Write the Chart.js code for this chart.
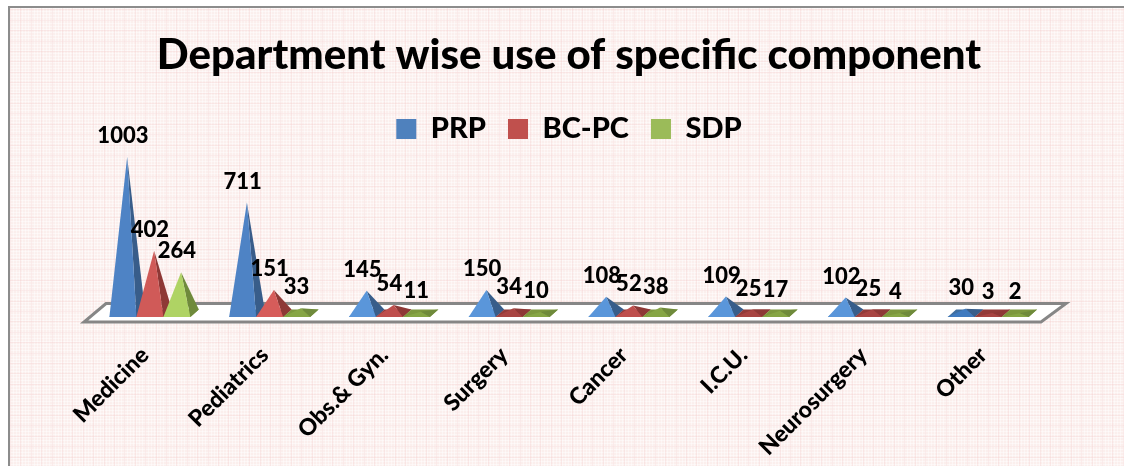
<!DOCTYPE html>
<html>
<head>
<meta charset="utf-8">
<title>Department wise use of specific component</title>
<script src="https://cdn.jsdelivr.net/npm/chart.js@4/dist/chart.umd.min.js"></script>
<style>
  html, body { margin: 0; padding: 0; background: #fff; overflow: hidden; }
  #frame {
    position: absolute; left: 8px; top: 6px; width: 1116px; height: 460px;
    border-left: 2px solid #8c8c8c; border-top: 2px solid #8c8c8c;
    background-color: #fbefed;
    background-image:
      repeating-linear-gradient(90deg, rgba(244,205,205,0.3) 0 1px, transparent 1px 10.4px),
      repeating-linear-gradient(0deg, rgba(244,205,205,0.3) 0 1px, transparent 1px 10.4px),
      repeating-linear-gradient(90deg, rgba(255,255,255,0.45) 0 1px, transparent 1px 3px),
      repeating-linear-gradient(0deg, rgba(255,255,255,0.45) 0 1px, transparent 1px 3px);
  }
  #weightless { position: absolute; left: 0; top: 0; }
</style>
</head>
<body>
<div id="frame"></div>
<canvas id="weightless" width="1124" height="466"></canvas>
<script>
const departments = ['Medicine', 'Pediatrics', 'Obs.& Gyn.', 'Surgery', 'Cancer', 'I.C.U.', 'Neurosurgery', 'Other'];
const prp = [1003, 711, 145, 150, 108, 109, 102, 30];
const bcPc = [402, 151, 54, 34, 52, 25, 25, 3];
const sdp = [264, 33, 11, 10, 38, 17, 4, 2];

// front face by height of the pyramid, then right face, then the base seen from above
const faces = [
  { front: ['#4E83C5', '#5A96DA', '#5A96DA', '#3F7ABF'], side: '#385D8A', base: '#3F6EA0' },
  { front: ['#D05A58', '#D65C5A', '#BE4E4C', '#A84442'], side: '#8E3836', base: '#923B39' },
  { front: ['#AFD364', '#AFD364', '#8FAF4E', '#86A545'], side: '#6F8A3B', base: '#7C973E' }
];

function frontColor(set, value) {
  if (value >= 400) return set.front[0];
  if (value >= 100) return set.front[1];
  if (value >= 40) return set.front[2];
  return set.front[3];
}

function drawFloor(ctx, area) {
  const y = area.bottom;
  ctx.beginPath();
  ctx.moveTo(area.left - 6, y + 8.5);
  ctx.lineTo(area.right - 7, y + 8.5);
  ctx.lineTo(area.right + 18, y - 10);
  ctx.lineTo(area.left + 16, y - 10);
  ctx.closePath();
  ctx.fillStyle = '#ffffff';
  ctx.fill();
  ctx.strokeStyle = '#868686';
  ctx.lineWidth = 3;
  ctx.stroke();
}

function drawPyramid(ctx, bar, set, value) {
  const half = bar.width / 2;
  const left = bar.x - half;
  const right = bar.x + half;
  const front = bar.base + 3.5;
  const back = bar.base - 4;
  const apexX = bar.x + 4.25;

  ctx.fillStyle = set.base;
  ctx.beginPath();
  ctx.moveTo(left, front);
  ctx.lineTo(right, front);
  ctx.lineTo(right + 8.5, back);
  ctx.lineTo(left + 8.5, back);
  ctx.closePath();
  ctx.fill();

  ctx.fillStyle = set.side;
  ctx.beginPath();
  ctx.moveTo(right, front);
  ctx.lineTo(right + 8.5, back);
  ctx.lineTo(apexX, bar.y);
  ctx.closePath();
  ctx.fill();

  ctx.fillStyle = frontColor(set, value);
  ctx.beginPath();
  ctx.moveTo(left, front);
  ctx.lineTo(right, front);
  ctx.lineTo(apexX, bar.y);
  ctx.closePath();
  ctx.fill();
}

const pyramidPlugin = {
  id: 'pyramids',
  beforeDatasetsDraw(chart) {
    const ctx = chart.ctx;
    ctx.save();
    drawFloor(ctx, chart.chartArea);
    // first series at the back, so the later ones overlap it
    chart.data.datasets.forEach((ds, i) => {
      chart.getDatasetMeta(i).data.forEach((bar, j) => {
        drawPyramid(ctx, bar, faces[i], ds.data[j]);
      });
    });
    ctx.fillStyle = '#000';
    ctx.font = '900 22px Lato';
    ctx.textAlign = 'center';
    ctx.textBaseline = 'middle';
    chart.data.datasets.forEach((ds, i) => {
      chart.getDatasetMeta(i).data.forEach((bar, j) => {
        ctx.fillText(ds.data[j], bar.x, bar.y - 21);
      });
    });
    ctx.restore();
    return false;
  }
};

new Chart(document.getElementById('weightless').getContext('2d'), {
  type: 'bar',
  plugins: [pyramidPlugin],
  data: {
    labels: departments,
    datasets: [
      { label: 'PRP', data: prp, backgroundColor: '#4F81BD' },
      { label: 'BC-PC', data: bcPc, backgroundColor: '#C0504D' },
      { label: 'SDP', data: sdp, backgroundColor: '#9BBB59' }
    ]
  },
  options: {
    responsive: false,
    animation: false,
    layout: { padding: { left: 90, right: 76, top: 0, bottom: 0 } },
    datasets: { bar: { categoryPercentage: 0.676, barPercentage: 1 } },
    plugins: {
      tooltip: { enabled: false },
      title: {
        display: true,
        text: 'Department wise use of specific component',
        color: '#000',
        font: { family: 'Lato', size: 42, weight: '900' },
        padding: { top: 30, bottom: 12 }
      },
      legend: {
        labels: {
          color: '#000',
          font: { family: 'Lato', size: 29, weight: '900' },
          boxWidth: 20,
          boxHeight: 20,
          padding: 22
        }
      }
    },
    scales: {
      x: {
        grid: { display: false },
        border: { display: false },
        afterFit(scale) { scale.height = 152.5; },
        ticks: {
          color: '#000',
          font: { family: 'Lato', size: 23, weight: '900' },
          minRotation: 45,
          maxRotation: 45,
          padding: 20,
          labelOffset: -5,
          autoSkip: false
        }
      },
      y: { display: false, min: 0, max: 1026 }
    }
  }
});
</script>
</body>
</html>
